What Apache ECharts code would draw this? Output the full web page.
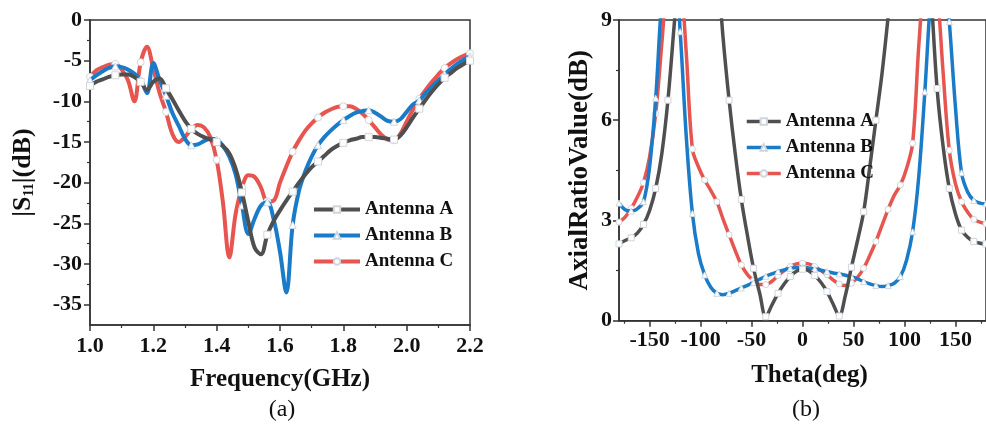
<!DOCTYPE html>
<html><head><meta charset="utf-8">
<script src="https://cdn.jsdelivr.net/npm/echarts@6/dist/echarts.min.js"></script>
<style>html,body{margin:0;padding:0;background:#fff;overflow:hidden}#c{width:986px;height:425px}</style>
</head><body><div id="c"></div>
<script>
// ---- (a) |S11| data ----
const freq = [1.00,1.02,1.04,1.06,1.08,1.10,1.12,1.14,1.16,1.18,1.20,1.22,1.24,1.26,1.28,1.30,1.32,1.34,1.36,1.38,1.40,1.42,1.44,1.46,1.48,1.50,1.52,1.54,1.56,1.58,1.60,1.62,1.64,1.66,1.68,1.70,1.72,1.74,1.76,1.78,1.80,1.82,1.84,1.86,1.88,1.90,1.92,1.94,1.96,1.98,2.00,2.02,2.04,2.06,2.08,2.10,2.12,2.14,2.16,2.18,2.20];
const s11A = [-8.1,-7.6,-7.3,-7.0,-6.8,-6.7,-6.7,-7.0,-7.6,-8.6,-7.6,-7.2,-8.4,-9.7,-11.1,-12.4,-13.4,-14.0,-14.4,-14.7,-15.0,-15.5,-16.4,-18.3,-21.2,-24.8,-28.0,-28.8,-26.4,-24.7,-23.4,-22.2,-21.1,-20.0,-19.0,-18.1,-17.4,-16.7,-16.0,-15.5,-15.1,-14.8,-14.6,-14.4,-14.4,-14.4,-14.5,-14.6,-14.7,-14.2,-13.2,-12.0,-10.9,-9.8,-8.8,-7.9,-7.1,-6.5,-5.9,-5.4,-5.0];
const s11B = [-7.4,-6.8,-6.3,-5.9,-5.7,-5.8,-6.1,-6.6,-7.3,-9.0,-5.3,-7.4,-9.3,-11.4,-13.0,-14.6,-15.4,-15.3,-14.9,-14.6,-14.7,-15.5,-16.8,-19.0,-22.8,-26.3,-24.4,-22.8,-22.4,-24.5,-28.5,-33.5,-25.2,-21.0,-18.6,-16.8,-15.4,-14.4,-13.6,-12.9,-12.3,-11.8,-11.4,-11.2,-11.1,-11.4,-11.9,-12.4,-12.5,-12.2,-11.3,-10.4,-9.9,-9.0,-8.2,-7.4,-6.7,-6.0,-5.4,-4.9,-4.5];
const s11C = [-7.0,-6.2,-5.8,-5.5,-5.4,-6.1,-7.4,-10.0,-5.2,-3.3,-6.0,-9.0,-11.3,-14.0,-15.0,-14.4,-13.4,-12.9,-13.2,-14.4,-17.2,-22.5,-29.2,-23.8,-20.6,-19.1,-19.3,-20.6,-22.3,-22.2,-20.0,-18.0,-16.2,-14.8,-13.6,-12.7,-12.0,-11.4,-11.0,-10.7,-10.6,-10.6,-10.9,-11.5,-12.3,-13.2,-14.1,-14.7,-14.8,-14.0,-12.5,-11.0,-9.7,-8.6,-7.6,-6.7,-5.9,-5.3,-4.8,-4.4,-4.1];
const s11Ticks = [0,-5,-10,-15,-20,-25,-30,-35];
const s11MinorTicks = [-2.5,-7.5,-12.5,-17.5,-22.5,-27.5,-32.5];

// ---- (b) Axial ratio data ----
const theta = [-180,-174,-168,-162,-156,-150,-144,-138,-132,-126,-120,-114,-108,-102,-96,-90,-84,-78,-72,-66,-60,-54,-48,-42,-36,-30,-24,-18,-12,-6,0,6,12,18,24,30,36,42,48,54,60,66,72,78,84,90,96,102,108,114,120,126,132,138,144,150,156,162,168,174,180];
const arA = [2.30,2.40,2.48,2.62,2.88,3.30,3.96,5.00,6.60,8.80,11.0,12.5,13.5,14.0,13.5,12.5,10.9,8.50,6.60,5.00,3.63,2.55,1.57,0.82,0.12,0.47,0.82,1.10,1.32,1.48,1.54,1.50,1.35,1.15,0.87,0.50,0.14,0.75,1.60,2.40,3.26,4.60,6.00,7.40,9.10,11.0,12.5,13.5,14.0,13.5,12.0,9.80,6.95,5.20,3.96,3.20,2.71,2.50,2.37,2.32,2.30];
const arB = [3.52,3.32,3.28,3.35,3.56,4.60,6.66,9.60,11.0,11.0,8.65,5.50,3.21,2.00,1.37,1.00,0.82,0.78,0.82,0.90,0.98,1.06,1.14,1.24,1.33,1.40,1.47,1.52,1.56,1.59,1.60,1.58,1.55,1.51,1.47,1.43,1.40,1.36,1.32,1.25,1.17,1.10,1.05,1.02,1.05,1.12,1.32,1.80,2.66,4.30,6.85,9.80,11.5,11.0,8.95,6.40,4.43,3.85,3.60,3.52,3.50];
const arC = [2.95,3.10,3.36,3.70,4.13,4.90,6.20,8.30,10.5,11.5,10.5,8.00,5.14,4.60,4.21,3.90,3.56,3.05,2.57,2.10,1.67,1.38,1.20,1.08,1.08,1.18,1.35,1.50,1.62,1.70,1.72,1.70,1.62,1.50,1.38,1.22,1.10,1.05,1.12,1.30,1.57,1.95,2.37,2.85,3.33,3.75,4.06,4.55,5.31,8.20,10.5,11.5,10.0,7.40,5.10,4.10,3.56,3.25,3.03,2.95,2.90];
const thetaTicks = [-150,-100,-50,0,50,100,150];
const thetaMinorTicks = [-175,-125,-75,-25,25,75,125,175];

const names = ['Antenna A','Antenna B','Antenna C'];
const colors = ['#4f4f4f','#1a7bc9','#e6554f'];
const symbols = ['rect','triangle','circle'];

const FONT = '"Liberation Serif","Times New Roman",serif';
const AX = '#333';

function pairs(xs, ys){ return xs.map((x,i)=>[x, ys[i]]); }

function mkSeries(i, xs, ys, xi, yi, step, lw, sz){
  return {
    type:'line', name:names[i], xAxisIndex:xi, yAxisIndex:yi,
    data: pairs(xs, ys), smooth:0.35, clip:true,
    symbol:symbols[i], showAllSymbol:true,
    symbolSize:(v,p)=> (p.dataIndex % step === 0 ? sz : 0),
    lineStyle:{color:colors[i], width:lw},
    itemStyle:{color:'#fff', borderColor:'#cfd6de', borderWidth:1},
    emphasis:{disabled:true}, z: 3 - i
  };
}

const tickLabel = {fontFamily:FONT, fontWeight:'bold', fontSize:22, color:'#111'};
const axisNameStyle = {fontFamily:FONT, fontWeight:'bold', fontSize:25, color:'#111'};
const legendText = {fontFamily:FONT, fontWeight:'bold', fontSize:19, color:'#111'};

const chart = echarts.init(document.getElementById('c'), null, {renderer:'canvas'});
chart.setOption({
  animation:false,
  backgroundColor:'#fff',
  grid:[
    {left:90, top:20, width:380, height:305, show:true, borderColor:AX, borderWidth:1.5, backgroundColor:'transparent'},
    {left:619, top:20, width:374.4, height:300.7, show:true, borderColor:AX, borderWidth:1.5, backgroundColor:'transparent'}
  ],
  xAxis:[
    {type:'value', gridIndex:0, min:1.0, max:2.2, interval:0.2,
     name:'Frequency(GHz)', nameLocation:'middle', nameGap:42, nameTextStyle:axisNameStyle,
     axisLine:{show:true, onZero:false, lineStyle:{color:AX, width:1.5}},
     axisTick:{show:true, inside:false, length:6, lineStyle:{color:AX, width:1.5}},
     minorTick:{show:true, splitNumber:2, length:3, lineStyle:{color:AX, width:1.2}},
     axisLabel:Object.assign({margin:10, formatter:v=>v.toFixed(1)}, tickLabel),
     splitLine:{show:false}},
    {type:'value', gridIndex:1, min:-180, max:180,
     name:'Theta(deg)', nameLocation:'middle', nameGap:42, nameTextStyle:Object.assign({padding:[0,0,0,14]}, axisNameStyle),
     axisLine:{show:true, onZero:false, lineStyle:{color:AX, width:1.5}},
     axisTick:{show:true, inside:false, length:6, customValues:thetaTicks, lineStyle:{color:AX, width:1.5}},
     axisLabel:Object.assign({margin:9, customValues:thetaTicks}, tickLabel),
     splitLine:{show:false}},
    {type:'value', gridIndex:1, min:-180, max:180, position:'bottom',
     axisLine:{show:false, onZero:false}, axisLabel:{show:false}, splitLine:{show:false},
     axisTick:{show:true, inside:false, length:3, customValues:thetaMinorTicks, lineStyle:{color:AX, width:1.2}}}
  ],
  yAxis:[
    {type:'value', gridIndex:0, min:-37.5, max:0,
     name:'|S{s|11}|(dB)', nameLocation:'middle', nameGap:54,
     nameTextStyle:{fontFamily:FONT, fontWeight:'bold', color:'#111', fontSize:26,
       rich:{s:{fontFamily:FONT, fontWeight:'bold', fontSize:14, color:'#111', verticalAlign:'bottom', padding:[10,0,0,0]}}},
     axisLine:{show:true, onZero:false, lineStyle:{color:AX, width:1.5}},
     axisTick:{show:true, inside:false, length:6, customValues:s11Ticks, lineStyle:{color:AX, width:1.5}},
     axisLabel:Object.assign({margin:8, customValues:s11Ticks}, tickLabel),
     splitLine:{show:false}},
    {type:'value', gridIndex:0, min:-37.5, max:0, position:'left',
     axisLine:{show:false, onZero:false}, axisLabel:{show:false}, splitLine:{show:false},
     axisTick:{show:true, inside:false, length:3, customValues:s11MinorTicks, lineStyle:{color:AX, width:1.2}}},
    {type:'value', gridIndex:1, min:0, max:9, interval:3,
     name:'AxialRatioValue(dB)', nameLocation:'middle', nameGap:25,
     nameTextStyle:Object.assign({}, axisNameStyle, {fontSize:27}),
     axisLine:{show:true, onZero:false, lineStyle:{color:AX, width:1.5}},
     axisTick:{show:true, inside:false, length:6, lineStyle:{color:AX, width:1.5}},
     minorTick:{show:true, splitNumber:2, length:3, lineStyle:{color:AX, width:1.2}},
     axisLabel:Object.assign({margin:7}, tickLabel),
     splitLine:{show:false}}
  ],
  legend:[
    {orient:'vertical', left:307, top:195, itemWidth:46, itemHeight:8, itemGap:7, padding:5,
     data:names, selectedMode:false, lineStyle:{width:4}, textStyle:legendText},
    {orient:'vertical', left:740, top:107, itemWidth:34, itemHeight:8, itemGap:7, padding:5,
     data:names, selectedMode:false, lineStyle:{width:3.5}, textStyle:legendText}
  ],
  series:[
    mkSeries(0, freq, s11A, 0, 0, 4, 4, 7),
    mkSeries(1, freq, s11B, 0, 0, 4, 4, 7),
    mkSeries(2, freq, s11C, 0, 0, 4, 4, 7),
    mkSeries(0, theta, arA, 1, 2, 2, 3.5, 6),
    mkSeries(1, theta, arB, 1, 2, 2, 3.5, 6),
    mkSeries(2, theta, arC, 1, 2, 2, 3.5, 6)
  ],
  graphic:[
    {type:'text', x:282, y:410, style:{text:'(a)', font:'24px "Liberation Serif"', fill:'#111', textAlign:'center', textVerticalAlign:'middle'}},
    {type:'text', x:806, y:410, style:{text:'(b)', font:'24px "Liberation Serif"', fill:'#111', textAlign:'center', textVerticalAlign:'middle'}}
  ]
});
</script></body></html>
